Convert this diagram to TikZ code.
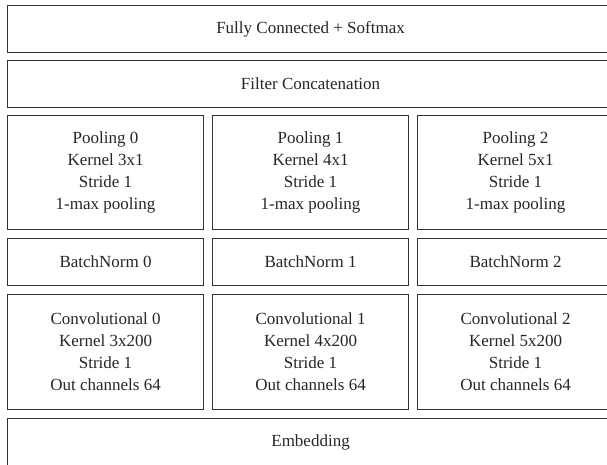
\documentclass[tikz,border=0pt]{standalone}
\usepackage{fontspec}
\setmainfont{Liberation Serif}
\begin{document}
\begin{tikzpicture}[x=1pt,y=-1pt,
  layer/.style={draw=black!80, line width=1.1pt, fill=white, inner sep=0pt,
    align=center, font=\fontsize{17}{22}\selectfont, text=black!85, anchor=north west},
  wide/.style={layer, minimum width=606pt},
  col/.style={layer, minimum width=196pt}]
\useasboundingbox (0,0) rectangle (607,465);
\clip (0,0) rectangle (607,465);
% full-width layers
\node[wide, minimum height=47pt] (fc) at (7,5) {Fully Connected + Softmax};
\node[wide, minimum height=47pt] (concat) at (7,60) {Filter Concatenation};
% pooling branches
\node[col, minimum height=114pt] (pool0) at (7,115) {Pooling 0\\Kernel 3x1\\Stride 1\\1-max pooling};
\node[col, minimum height=114pt] (pool1) at (212,115) {Pooling 1\\Kernel 4x1\\Stride 1\\1-max pooling};
\node[col, minimum height=114pt] (pool2) at (417,115) {Pooling 2\\Kernel 5x1\\Stride 1\\1-max pooling};
% batch normalisation
\node[col, minimum height=47pt] (bn0) at (7,238) {BatchNorm 0};
\node[col, minimum height=47pt] (bn1) at (212,238) {BatchNorm 1};
\node[col, minimum height=47pt] (bn2) at (417,238) {BatchNorm 2};
% convolution branches
\node[col, minimum height=115pt] (conv0) at (7,294) {Convolutional 0\\Kernel 3x200\\Stride 1\\Out channels 64};
\node[col, minimum height=115pt] (conv1) at (212,294) {Convolutional 1\\Kernel 4x200\\Stride 1\\Out channels 64};
\node[col, minimum height=115pt] (conv2) at (417,294) {Convolutional 2\\Kernel 5x200\\Stride 1\\Out channels 64};
% input layer
\node[wide, minimum height=48pt] (emb) at (7,418) {Embedding};
\end{tikzpicture}
\end{document}
